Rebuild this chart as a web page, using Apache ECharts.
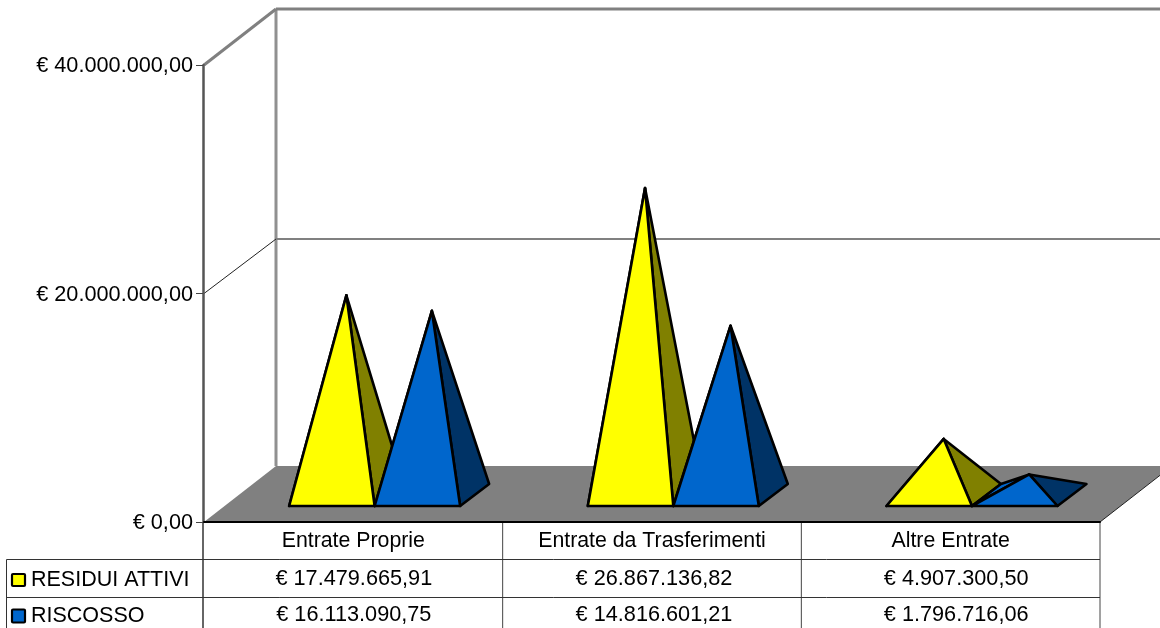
<!DOCTYPE html>
<html>
<head>
<meta charset="utf-8">
<style>html,body{margin:0;padding:0;background:#fff;overflow:hidden}#c{width:1160px;height:628px}</style>
<script src="https://cdn.jsdelivr.net/npm/echarts@6/dist/echarts.min.js"></script>
</head>
<body>
<div id="c"></div>
<script>
const categories = ['Entrate Proprie', 'Entrate da Trasferimenti', 'Altre Entrate'];
const residuiAttivi = [17479665.91, 26867136.82, 4907300.50];
const riscosso = [16113090.75, 14816601.21, 1796716.06];
const yTicks = [0, 20000000, 40000000];

const FONT = '"Liberation Sans", Arial, sans-serif';
const FS = 21.3, FS_NUM = 21.7;
const DX = 72, DY = -56;            // chart depth
const PDX = 29, PDY = -22;          // pyramid depth
const FRONT_X = 21.3, FRONT_Y = -16;  // pyramid front edge offset from front plane
const BAR_W = 85.5;
const CELL_SHIFT = [0.5, 2, 5.5];   // table value cells sit slightly right of the band centre

function euro(v) {
  const s = v.toFixed(2).split('.');
  return '€ ' + s[0].replace(/\B(?=(\d{3})+$)/g, '.') + ',' + s[1];
}
function line(x1, y1, x2, y2, stroke, lineWidth) {
  return { type: 'line', shape: { x1, y1, x2, y2 }, silent: true, style: { stroke, lineWidth, fill: null } };
}
function poly(points, fill) {
  return { type: 'polygon', shape: { points }, silent: true,
    style: { fill, stroke: '#000', lineWidth: 2.6, lineJoin: 'round' } };
}
function txt(x, y, text, align, size) {
  return { type: 'text', silent: true, x, y,
    style: { text, x: 0, y: 0, fill: '#000', font: (size || FS) + 'px ' + FONT, align: align || 'center', verticalAlign: 'middle' } };
}

function renderScene(params, api) {
  if (params.dataIndex !== 0) return null;
  const cs = params.coordSys;
  const L = cs.x, R = cs.x + cs.width;
  const y0 = api.coord([0, 0])[1];
  const ch = [];
  // floor
  ch.push({ type: 'polygon', silent: true, shape: { points: [[L, y0], [R, y0], [R + DX, y0 + DY], [L + DX, y0 + DY]] },
    style: { fill: '#808080', stroke: null } });
  ch.push(line(R, y0, R + DX, y0 + DY, '#222', 1));
  // back wall
  const yTop = api.coord([0, yTicks[yTicks.length - 1]])[1];
  ch.push(line(L + DX, y0 + DY, L + DX, yTop + DY, '#909090', 3));
  yTicks.slice(1).forEach(function (t, i) {
    const y = api.coord([0, t])[1];
    const top = i === yTicks.length - 2;
    const by = y + DY + (top ? 0 : 1.5);
    ch.push(line(L + DX, by, R + DX, by, '#808080', top ? 3 : 2));
    ch.push(line(L, y, L + DX, by, top ? '#808080' : '#222', top ? 3 : 1));
  });
  // data table
  const T = [y0, 559.5, 597.5, 640];
  const LEFT = 6.5;
  ch.push(line(L - 1, T[0], L - 1, T[3], '#666', 2));
  categories.forEach(function (c, i) {
    const x = api.coord([i, 0])[0] + api.size([1, 0])[0] / 2;
    ch.push(line(x, T[0], x, T[3], '#444', 1));
  });
  ch.push(line(LEFT, T[1], R, T[1], '#333', 1));
  ch.push(line(LEFT, T[2], R, T[2], '#333', 1));
  ch.push(line(LEFT, T[1], LEFT, T[3], '#333', 1));
  [[residuiAttivi, '#FFFF00', 'RESIDUI ATTIVI', 580, 574, 12], [riscosso, '#0066CC', 'RISCOSSO', 616, 609.5, 13]].forEach(function (r) {
    ch.push({ type: 'rect', silent: true, shape: { x: 12, y: r[4], width: 13, height: r[5], r: 1 },
      style: { fill: r[1], stroke: '#000', lineWidth: 2.2 } });
    ch.push(txt(31, r[3], r[2], 'left', FS + 0.2));
    r[0].forEach(function (v, i) { ch.push(txt(api.coord([i, 0])[0] + CELL_SHIFT[i], r[3] - 1, euro(v), 'center', FS_NUM)); });
  });
  return { type: 'group', children: ch };
}

function renderPyramid(front, side, dir) {
  return function (params, api) {
    const i = api.value(0), v = api.value(1);
    const c = api.coord([i, 0]);
    const apexPx = api.coord([i, v])[1];
    const xl = c[0] + FRONT_X + (dir < 0 ? -BAR_W : 0);
    const xr = xl + BAR_W;
    const yf = c[1] + FRONT_Y;
    const yb = yf + PDY;
    const apex = [(xl + xr) / 2 + PDX / 2, apexPx + FRONT_Y + PDY / 2];
    return { type: 'group', children: [
      poly([[xl, yf], [xl + PDX, yb], apex], front),
      poly([[xr, yf], [xr + PDX, yb], apex], side),
      poly([[xl, yf], [xr, yf], apex], front)
    ] };
  };
}

const chart = echarts.init(document.getElementById('c'), null, { renderer: 'canvas', width: 1160, height: 628 });
chart.setOption({
  animation: false,
  backgroundColor: '#fff',
  grid: { left: 204, top: 65, width: 896, height: 457, containLabel: false },
  xAxis: {
    type: 'category', data: categories, z: 10,
    axisLine: { show: true, lineStyle: { color: '#000', width: 2 } },
    axisTick: { show: false },
    axisLabel: { color: '#000', fontFamily: FONT, fontSize: FS, margin: 9, interval: 0 }
  },
  yAxis: {
    type: 'value', min: 0, max: 40000000, interval: 20000000, z: 10, offset: 1,
    axisLine: { show: true, lineStyle: { color: '#555', width: 2.5 } },
    axisTick: { show: true, length: 7, lineStyle: { color: '#444', width: 1 } },
    axisLabel: { color: '#000', fontFamily: FONT, fontSize: FS_NUM, margin: 10, verticalAlign: 'top', lineHeight: 3, formatter: euro },
    splitLine: { show: false }
  },
  series: [
    { type: 'custom', name: 'scene', z: 1, renderItem: renderScene, data: [[0, 0]], encode: { x: 0, y: 1 } },
    { type: 'custom', name: 'RESIDUI ATTIVI', z: 2, renderItem: renderPyramid('#FFFF00', '#808000', -1),
      data: residuiAttivi.map(function (v, i) { return [i, v]; }), encode: { x: 0, y: 1 } },
    { type: 'custom', name: 'RISCOSSO', z: 3, renderItem: renderPyramid('#0066CC', '#003366', 1),
      data: riscosso.map(function (v, i) { return [i, v]; }), encode: { x: 0, y: 1 } }
  ]
});
</script>
</body>
</html>
